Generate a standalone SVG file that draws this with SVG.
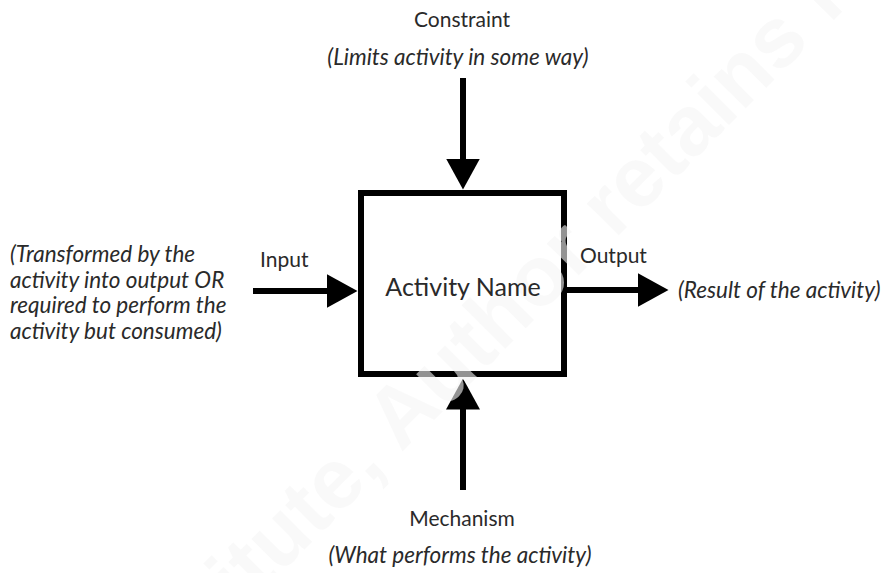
<svg xmlns="http://www.w3.org/2000/svg" width="884" height="573" viewBox="0 0 884 573">
  <defs>
    <marker id="head" viewBox="0 0 31 34" markerUnits="userSpaceOnUse" markerWidth="31" markerHeight="34" refX="0.5" refY="17" orient="auto">
      <path d="M0,0 L31,17 L0,34 Z" fill="#000"/>
    </marker>
    <style>
      .lbl { font-family: Lato, "Open Sans", "Liberation Sans", sans-serif; font-size: 21px; fill: #2a2a2a; }
      .note { font-family: Lato, "Open Sans", "Liberation Sans", sans-serif; font-size: 22.5px; font-style: italic; fill: #2a2a2a; }
      .title { font-family: Lato, "Open Sans", "Liberation Sans", sans-serif; font-size: 25px; fill: #2a2a2a; }
      .conn { stroke: #000; stroke-width: 6; fill: none; marker-end: url(#head); }
      .mark { font-family: "Liberation Sans", Arial, sans-serif; font-weight: bold; font-size: 85px; fill: #f5f5f5; fill-opacity: 0.6; }
    </style>
  </defs>
  <rect width="884" height="573" fill="#fff"/>

  <!-- connectors: controls from above, mechanism from below, input/output sideways -->
  <g id="connectors">
    <line class="conn" x1="463" y1="78" x2="463" y2="159"/>
    <line class="conn" x1="253" y1="291" x2="327" y2="291"/>
    <line class="conn" x1="567" y1="290" x2="638" y2="290"/>
    <line class="conn" x1="463" y1="490" x2="463" y2="409"/>
  </g>

  <g id="activity">
    <rect x="361" y="193" width="203" height="181" fill="#fff" stroke="#000" stroke-width="6"/>
    <!-- faint diagonal rights notice, laid over the shapes but under the labels -->
    <text class="mark" x="136" y="718" transform="rotate(-45 136 718)">Institute, Author retains full rights</text>
    <text class="title" x="463" y="296" text-anchor="middle">Activity Name</text>
  </g>

  <g id="constraint">
    <text class="lbl" x="462" y="27" text-anchor="middle">Constraint</text>
    <text class="note" x="458" y="65" text-anchor="middle">(Limits activity in some way)</text>
  </g>

  <g id="input">
    <text class="lbl" x="260" y="267">Input</text>
    <text class="note" x="10" y="262">(Transformed by the</text>
    <text class="note" x="10" y="288">activity into output OR</text>
    <text class="note" x="10" y="313">required to perform the</text>
    <text class="note" x="10" y="339">activity but consumed)</text>
  </g>

  <g id="output">
    <text class="lbl" x="580" y="263">Output</text>
    <text class="note" x="678" y="298">(Result of the activity)</text>
  </g>

  <g id="mechanism">
    <text class="lbl" x="462" y="526" text-anchor="middle">Mechanism</text>
    <text class="note" x="460" y="563" text-anchor="middle">(What performs the activity)</text>
  </g>
</svg>
